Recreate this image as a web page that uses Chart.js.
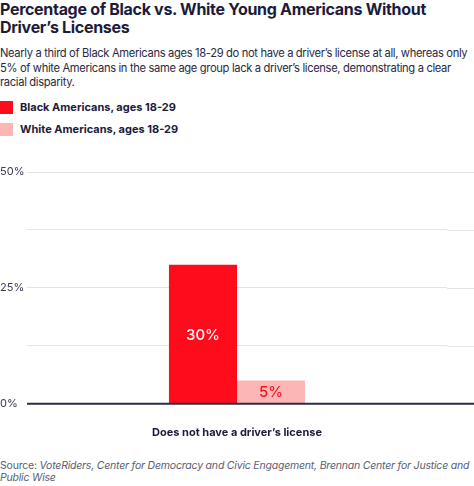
<!DOCTYPE html>
<html>
<head>
<meta charset="utf-8">
<script src="https://cdn.jsdelivr.net/npm/chart.js@4.4.1/dist/chart.umd.min.js"></script>
<style>
  html, body { margin: 0; padding: 0; background: #fff; }
  body { width: 474px; height: 486px; position: relative; overflow: hidden; font-family: Inter, "Noto Sans", sans-serif; color: #1b1b3a; }
  #title { position: absolute; left: 0; top: 0; width: 474px; font-size: 16px; font-weight: 700; line-height: 18px; letter-spacing: -0.3px; }
  #subtitle { position: absolute; left: 0; top: 46px; width: 474px; font-size: 11.2px; line-height: 14.5px; letter-spacing: -0.35px; color: #2a2a44; }
  .legend { position: absolute; left: 0; font-size: 11px; font-weight: 700; line-height: 13px; }
  .legend span { display: inline-block; width: 13px; height: 13px; vertical-align: top; margin-right: 7px; }
  #chart-wrap { position: absolute; left: 0; top: 150px; width: 474px; height: 303px; }
  #source { position: absolute; left: 0; top: 460px; width: 474px; font-size: 10.5px; line-height: 12px; letter-spacing: -0.2px; color: #5a5e72; }
</style>
</head>
<body>
<div id="title">Percentage of Black vs. White Young Americans Without Driver’s Licenses</div>
<div id="subtitle">Nearly a third of Black Americans ages 18-29 do not have a driver’s license at all, whereas only 5% of white Americans in the same age group lack a driver’s license, demonstrating a clear racial disparity.</div>
<div class="legend" id="legend-0" style="top:101px"></div>
<div class="legend" id="legend-1" style="top:123px"></div>
<div id="chart-wrap"><canvas id="chart" width="474" height="303"></canvas></div>
<div id="source">Source: <i>VoteRiders, Center for Democracy and Civic Engagement, Brennan Center for Justice and Public Wise</i></div>
<script>
const categories = ['Does not have a driver’s license'];
const seriesNames = ['Black Americans, ages 18-29', 'White Americans, ages 18-29'];
const blackValues = [30];
const whiteValues = [5];
const yTicks = [0, 12.5, 25, 37.5, 50];
const labeledTicks = [0, 25, 50];

const seriesColors = ['#fe0b1c', '#fdb6b6'];
const labelColors = ['#ffffff', '#f0141e'];

seriesNames.forEach((name, i) => {
  const el = document.getElementById(`legend-${i}`);
  const swatch = document.createElement('span');
  swatch.style.background = seriesColors[i];
  el.appendChild(swatch);
  el.appendChild(document.createTextNode(name));
});

// value labels in the middle of each bar
const barLabels = {
  id: 'barLabels',
  afterDatasetsDraw(chart) {
    const ctx = chart.ctx;
    ctx.save();
    ctx.font = '500 15px Inter, "Noto Sans", sans-serif';
    ctx.textAlign = 'center';
    ctx.textBaseline = 'middle';
    chart.data.datasets.forEach((ds, i) => {
      chart.getDatasetMeta(i).data.forEach((bar, j) => {
        ctx.fillStyle = labelColors[i];
        ctx.fillText(`${ds.data[j]}%`, bar.x, (bar.y + bar.base) / 2 + 1);
      });
    });
    ctx.restore();
  }
};

// grid lines run on to the right edge of the page
const gridRunout = {
  id: 'gridRunout',
  beforeDatasetsDraw(chart) {
    const ctx = chart.ctx;
    const y = chart.scales.y;
    ctx.save();
    yTicks.forEach(v => {
      if (v === 0) return;
      const py = Math.round(y.getPixelForValue(v)) + 0.5;
      ctx.strokeStyle = '#e3e3ea';
      ctx.lineWidth = 1;
      ctx.beginPath();
      ctx.moveTo(chart.chartArea.right, py);
      ctx.lineTo(chart.width, py);
      ctx.stroke();
    });
    ctx.restore();
  },
  afterDatasetsDraw(chart) {
    const ctx = chart.ctx;
    const py = chart.scales.y.getPixelForValue(0);
    ctx.save();
    ctx.strokeStyle = '#2c2c44';
    ctx.lineWidth = 2;
    ctx.beginPath();
    ctx.moveTo(chart.chartArea.left, py);
    ctx.lineTo(chart.width, py);
    ctx.stroke();
    ctx.restore();
  }
};

new Chart(document.getElementById('chart'), {
  type: 'bar',
  data: {
    labels: categories,
    datasets: [
      { label: seriesNames[0], data: blackValues, backgroundColor: seriesColors[0] },
      { label: seriesNames[1], data: whiteValues, backgroundColor: seriesColors[1] }
    ]
  },
  options: {
    responsive: false,
    animation: false,
    layout: { padding: { top: 22, right: 27, left: 0, bottom: 0 } },
    datasets: { bar: { barPercentage: 1, categoryPercentage: 0.324 } },
    plugins: { legend: { display: false }, tooltip: { enabled: false } },
    scales: {
      x: {
        grid: { display: false },
        border: { display: false },
        ticks: { color: '#1b1b3a', font: { family: 'Inter', size: 11, weight: '700' }, padding: 14 }
      },
      y: {
        min: 0,
        max: 50,
        afterBuildTicks: axis => { axis.ticks = yTicks.map(value => ({ value })); },
        afterFit: axis => { axis.width = 27; },
        grid: { color: '#e3e3ea', drawTicks: false },
        border: { display: false },
        ticks: {
          color: '#3a3a55',
          crossAlign: 'far',
          padding: 4,
          font: { family: 'Inter', size: 11 },
          callback: value => (labeledTicks.includes(value) ? `${value}%` : '')
        }
      }
    }
  },
  plugins: [gridRunout, barLabels]
});
</script>
</body>
</html>
